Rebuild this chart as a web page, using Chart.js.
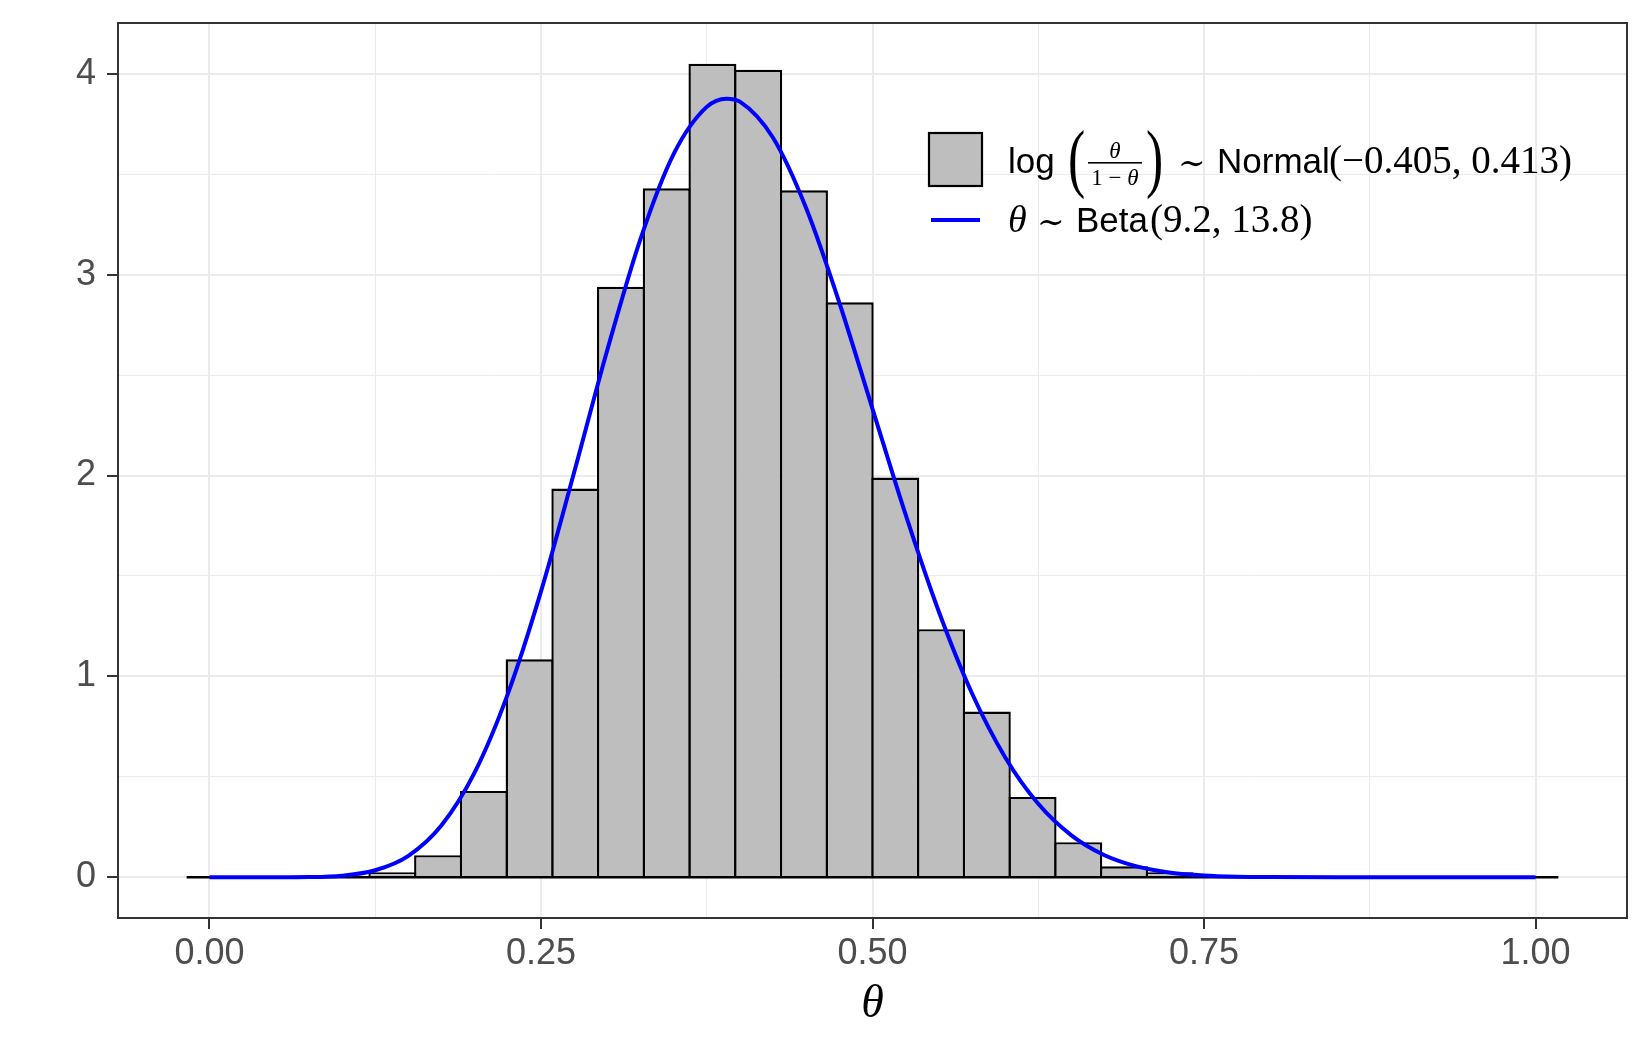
<!DOCTYPE html>
<html>
<head>
<meta charset="utf-8">
<script src="https://cdn.jsdelivr.net/npm/chart.js@4.4.1/dist/chart.umd.min.js"></script>
<style>
  html, body { margin: 0; padding: 0; background: #ffffff; }
  #wrap { width: 1650px; height: 1050px; }
</style>
</head>
<body>
<div id="wrap"><canvas id="myChart" width="1650" height="1050"></canvas></div>
<script>
// histogram of theta samples: 30 bins, width 1/29, density
var binWidth = 0.0345;
var binCenters = [0, 0.0345, 0.0690, 0.1034, 0.1379, 0.1724, 0.2069, 0.2414, 0.2759, 0.3103,
                  0.3448, 0.3793, 0.4138, 0.4483, 0.4828, 0.5172, 0.5517, 0.5862, 0.6207, 0.6552,
                  0.6897, 0.7241, 0.7586, 0.7931, 0.8276, 0.8621, 0.8966, 0.9310, 0.9655, 1];
var binDensity = [0, 0, 0, 0, 0.025, 0.11, 0.43, 1.085, 1.935, 2.94,
                  3.43, 4.05, 4.02, 3.42, 2.862, 1.99, 1.235, 0.825, 0.40, 0.175,
                  0.055, 0.025, 0, 0, 0, 0, 0, 0, 0, 0];

// Beta(9.2, 13.8) curve
var betaX = [0, 0.025, 0.05, 0.075, 0.1, 0.125, 0.15, 0.175, 0.2, 0.225, 0.25, 0.275, 0.3, 0.325,
             0.35, 0.375, 0.39, 0.4, 0.425, 0.45, 0.475, 0.5, 0.525, 0.55, 0.575, 0.6, 0.625,
             0.65, 0.675, 0.7, 0.725, 0.75, 0.775, 0.8, 0.85, 0.9, 0.95, 1];
var betaY = [0, 0, 0.0001, 0.001, 0.008, 0.035, 0.107, 0.259, 0.522, 0.913, 1.423, 2.016, 2.625, 3.177,
             3.600, 3.835, 3.876, 3.861, 3.681, 3.330, 2.860, 2.332, 1.805, 1.323, 0.916, 0.598, 0.366,
             0.209, 0.110, 0.053, 0.023, 0.009, 0.003, 0.001, 0, 0, 0, 0];

// axis ticks
var xTickValues = [0, 0.25, 0.5, 0.75, 1];
var xTickLabels = ["0.00", "0.25", "0.50", "0.75", "1.00"];
var xMinorValues = [0.125, 0.375, 0.625, 0.875];
var yTickValues = [0, 1, 2, 3, 4];
var yTickLabels = ["0", "1", "2", "3", "4"];
var yMinorValues = [0.5, 1.5, 2.5, 3.5];

var legendLabels = ["Normal", "Beta"];

Chart.defaults.font.family = "'Liberation Sans', Arial, sans-serif";

function isMajor(list, ctx) {
  return ctx.tick && list.indexOf(ctx.tick.value) >= 0;
}

var histData = binCenters.map(function (c, i) { return { x: c, y: binDensity[i] }; });
var baseData = [
  { x: binCenters[0] - binWidth / 2, y: 0 },
  { x: binCenters[binCenters.length - 1] + binWidth / 2, y: 0 }
];
var betaData = betaX.map(function (x, i) { return { x: x, y: betaY[i] }; });

// panel border + hand made legend (fraction in the label)
var panelPlugin = {
  id: "panelAndKey",
  afterDraw: function (chart) {
    var ctx = chart.ctx;
    var ca = chart.chartArea;
    ctx.save();
    ctx.strokeStyle = "#333333";
    ctx.lineWidth = 2;
    ctx.strokeRect(ca.left, ca.top, ca.right - ca.left, ca.bottom - ca.top);

    var ox = ca.left + 810, oy = ca.top + 109;
    // key 1: grey box
    ctx.fillStyle = "#bebebe";
    ctx.fillRect(ox, oy, 55, 55);
    ctx.strokeStyle = "#000000";
    ctx.lineWidth = 2.2;
    ctx.strokeRect(ox + 1, oy + 1, 53, 53);
    // key 2: blue line
    ctx.strokeStyle = "#0000ff";
    ctx.lineWidth = 4;
    ctx.beginPath();
    ctx.moveTo(ox + 3, oy + 88);
    ctx.lineTo(ox + 52, oy + 88);
    ctx.stroke();

    ctx.fillStyle = "#000000";
    ctx.textAlign = "left";
    ctx.textBaseline = "alphabetic";
    var sans = "35px 'Liberation Sans', Arial, sans-serif";
    var serif = "39px 'Liberation Serif', serif";
    var tilde = "33px 'DejaVu Serif', serif";
    var tx = ox + 80;
    var b1 = oy + 41, b2 = oy + 100;

    // line 1: log(theta / (1 - theta)) ~ Normal(-0.405, 0.413)
    ctx.font = sans;
    ctx.fillText("log", tx, b1);
    ctx.font = "76px 'Liberation Serif', serif";
    ctx.save(); ctx.translate(tx + 60, b1 + 10); ctx.scale(0.68, 1); ctx.fillText("(", 0, 0); ctx.restore();
    ctx.save(); ctx.translate(tx + 138, b1 + 10); ctx.scale(0.68, 1); ctx.fillText(")", 0, 0); ctx.restore();
    var fc = tx + 107;
    ctx.font = "italic 23px 'Liberation Serif', serif";
    ctx.textAlign = "center";
    ctx.fillText("θ", fc, b1 - 15);
    ctx.fillRect(fc - 27, b1 - 11, 54, 1.6);
    ctx.textAlign = "left";
    ctx.font = "23px 'Liberation Serif', serif";
    var w1 = ctx.measureText("1 − ").width;
    ctx.font = "italic 23px 'Liberation Serif', serif";
    var w2 = ctx.measureText("θ").width;
    var dx = fc - (w1 + w2) / 2;
    ctx.font = "23px 'Liberation Serif', serif";
    ctx.fillText("1 − ", dx, b1 + 12);
    ctx.font = "italic 23px 'Liberation Serif', serif";
    ctx.fillText("θ", dx + w1, b1 + 12);

    ctx.font = tilde;
    ctx.fillText("∼", tx + 170, b1 + 1);
    ctx.font = sans;
    ctx.fillText(legendLabels[0], tx + 209, b1);
    ctx.font = serif;
    ctx.fillText("(−0.405, 0.413)", tx + 321, b1);

    // line 2: theta ~ Beta(9.2, 13.8)
    ctx.font = "italic 38px 'Liberation Serif', serif";
    ctx.fillText("θ", tx, b2);
    ctx.font = tilde;
    ctx.fillText("∼", tx + 29, b2 + 1);
    ctx.font = sans;
    ctx.fillText(legendLabels[1], tx + 68, b2);
    ctx.font = serif;
    ctx.fillText("(9.2, 13.8)", tx + 142, b2);
    ctx.restore();
  }
};

new Chart("myChart", {
  type: "bar",
  data: {
    datasets: [
      {
        type: "line",
        data: betaData,
        borderColor: "#0000ff",
        borderWidth: 4,
        pointRadius: 0,
        cubicInterpolationMode: "monotone",
        order: 1
      },
      {
        type: "line",
        data: baseData,
        borderColor: "#000000",
        borderWidth: 2.4,
        pointRadius: 0,
        order: 2
      },
      {
        type: "bar",
        data: histData,
        backgroundColor: "#bebebe",
        borderColor: "#000000",
        borderWidth: 2.4,
        borderSkipped: "start",
        inflateAmount: 0,
        barPercentage: 1.052,
        categoryPercentage: 1,
        order: 3
      }
    ]
  },
  options: {
    responsive: false,
    animation: false,
    layout: { padding: { top: 23, right: 23, left: 0, bottom: 0 } },
    plugins: {
      legend: { display: false },
      tooltip: { enabled: false }
    },
    scales: {
      x: {
        type: "linear",
        min: -0.069,
        max: 1.069,
        offset: false,
        afterBuildTicks: function (scale) {
          scale.ticks = xTickValues.concat(xMinorValues).sort(function (a, b) { return a - b; })
            .map(function (v) { return { value: v }; });
        },
        afterFit: function (scale) {
          scale.height = 132;
          scale.paddingLeft = 0;
          scale.paddingRight = 0;
        },
        ticks: {
          autoSkip: false,
          maxRotation: 0,
          color: "#4d4d4d",
          font: { size: 36 },
          padding: 3,
          callback: function (value) {
            var i = xTickValues.indexOf(value);
            return i >= 0 ? xTickLabels[i] : "";
          }
        },
        grid: {
          offset: false,
          color: "#ebebeb",
          lineWidth: function (c) { return isMajor(xTickValues, c) ? 2 : 1; },
          tickLength: 11,
          tickWidth: 2,
          tickColor: function (c) { return isMajor(xTickValues, c) ? "#333333" : "rgba(0,0,0,0)"; }
        },
        border: { display: false },
        title: {
          display: true,
          text: "θ",
          color: "#000000",
          font: { family: "'Liberation Serif', serif", style: "italic", size: 46 },
          padding: { top: 0, bottom: 17 }
        }
      },
      y: {
        min: -0.2025,
        max: 4.2525,
        afterBuildTicks: function (scale) {
          scale.ticks = yTickValues.concat(yMinorValues).sort(function (a, b) { return a - b; })
            .map(function (v) { return { value: v }; });
        },
        afterFit: function (scale) {
          scale.width = 118;
          scale.paddingTop = 0;
          scale.paddingBottom = 0;
        },
        ticks: {
          autoSkip: false,
          color: "#4d4d4d",
          font: { size: 36 },
          padding: 11,
          callback: function (value) {
            var i = yTickValues.indexOf(value);
            return i >= 0 ? yTickLabels[i] : "";
          }
        },
        grid: {
          color: "#ebebeb",
          lineWidth: function (c) { return isMajor(yTickValues, c) ? 2 : 1; },
          tickLength: 11,
          tickWidth: 2,
          tickColor: function (c) { return isMajor(yTickValues, c) ? "#333333" : "rgba(0,0,0,0)"; }
        },
        border: { display: false }
      }
    }
  },
  plugins: [panelPlugin]
});
</script>
</body>
</html>
